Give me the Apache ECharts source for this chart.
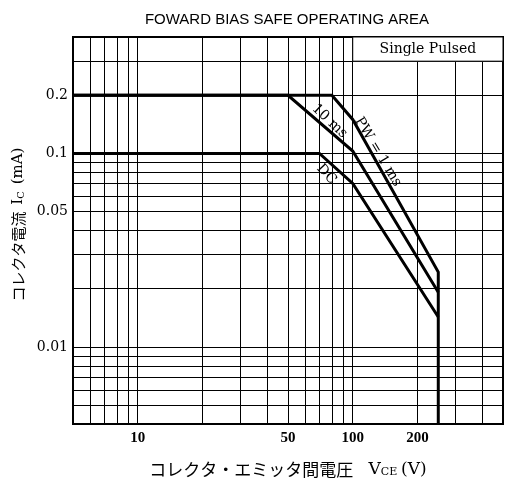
<!DOCTYPE html>
<html>
<head>
<meta charset="utf-8">
<script src="https://cdn.jsdelivr.net/npm/echarts@6/dist/echarts.min.js"></script>
<style>html,body{margin:0;padding:0;background:#fff}#chart{width:505px;height:490px}</style>
</head>
<body>
<div id="chart"></div>
<script>
// grid lines and labels (real units)
const vGrid = [5, 6, 7, 8, 9, 10, 20, 30, 40, 50, 60, 70, 80, 90, 100, 200, 300, 400, 500]
const iGrid = [0.004, 0.005, 0.006, 0.007, 0.008, 0.009, 0.01, 0.02, 0.03, 0.04, 0.05, 0.06, 0.07, 0.08, 0.09, 0.1, 0.2, 0.3, 0.4]
const vLabels = [10, 50, 100, 200]
const iLabels = [0.01, 0.05, 0.1, 0.2]

// SOA curves: VCE (V) / IC (mA)
const pw1msV = [5, 80, 100, 250, 250]
const pw1msI = [0.2, 0.2, 0.15, 0.0244, 0.004]
const pw10msV = [5, 50, 100, 250]
const pw10msI = [0.2, 0.2, 0.103, 0.0192]
const dcV = [5, 70, 100, 250]
const dcI = [0.1, 0.1, 0.07, 0.0143]

const lg = Math.log10
const pts = (vs, is) => vs.map((v, k) => [lg(v), lg(is[k])])
const SERIF = "'DejaVu Serif', serif"
const CJK = "'Noto Sans CJK JP', sans-serif"

function tag(text, v, i, rotate) {
  return {
    coord: [lg(v), lg(i)], symbol: 'circle', symbolSize: 1,
    itemStyle: { color: 'transparent' },
    label: { show: true, position: 'inside', rotate, formatter: text,
      color: '#000', fontFamily: SERIF, fontSize: 14 },
  }
}

function curve(name, data, marks, extra) {
  return Object.assign({
    name, type: 'line', data, symbol: 'none', silent: true,
    lineStyle: { color: '#000', width: 3, join: 'miter' },
    markPoint: { silent: true, data: marks },
  }, extra || {})
}

const chart = echarts.init(document.getElementById('chart'), null, { renderer: 'canvas' })
chart.setOption({
  animation: false,
  title: {
    text: 'FOWARD BIAS SAFE OPERATING AREA', left: 282, top: 7, textAlign: 'center',
    textStyle: { fontFamily: "'Liberation Sans', sans-serif", fontSize: 15, fontWeight: 'normal', color: '#000' },
  },
  grid: { left: 73, right: 2, top: 37, bottom: 66, show: true, borderColor: '#000', borderWidth: 2 },
  xAxis: {
    type: 'value', min: lg(5), max: lg(500),
    axisLine: { show: true, lineStyle: { color: '#000', width: 2 } },
    axisTick: { show: false, customValues: vGrid.map(lg) },
    splitLine: { show: true, lineStyle: { color: '#000', width: 1 } },
    axisLabel: {
      customValues: vLabels.map(lg), margin: 7,
      formatter: (v) => String(Math.round(Math.pow(10, v))),
      fontFamily: "'Liberation Serif', serif", fontWeight: 'bold', fontSize: 15, color: '#000',
    },
    name: 'コレクタ・エミッタ間電圧    {l|V}{s|CE} {l|(V)}',
    nameLocation: 'middle', nameGap: 37,
    nameTextStyle: {
      fontFamily: CJK, fontSize: 17, color: '#000',
      rich: {
        l: { fontFamily: SERIF, fontSize: 17, color: '#000' },
        s: { fontFamily: SERIF, fontSize: 11, color: '#000', padding: [6, 0, 0, 0] },
      },
    },
  },
  yAxis: {
    type: 'value', min: lg(0.004), max: lg(0.4),
    axisLine: { show: true, lineStyle: { color: '#000', width: 2 } },
    axisTick: { show: false, customValues: iGrid.map(lg) },
    splitLine: { show: true, lineStyle: { color: '#000', width: 1 } },
    axisLabel: {
      customValues: iLabels.map(lg), margin: 5,
      formatter: (v) => String(+Math.pow(10, v).toPrecision(2)),
      fontFamily: SERIF, fontSize: 14, color: '#000',
    },
    name: 'コレクタ電流  {l|I}{s|C}  {l|(mA)}',
    nameLocation: 'middle', nameRotate: 90, nameGap: 43,
    nameTextStyle: {
      fontFamily: CJK, fontSize: 15, color: '#000', padding: [0, 0, 0, 12],
      rich: {
        l: { fontFamily: SERIF, fontSize: 15, color: '#000' },
        s: { fontFamily: SERIF, fontSize: 10, color: '#000', padding: [6, 0, 0, 0] },
      },
    },
  },
  series: [
    curve('PW=1 ms', pts(pw1msV, pw1msI), [tag('PW = 1 ms', 131, 0.102, -59)]),
    curve('10 ms', pts(pw10msV, pw10msI), [tag('10 ms', 78, 0.147, -43)]),
    curve('DC', pts(dcV, dcI), [tag('DC', 75.5, 0.078, -47)], {
      markArea: {
        silent: true,
        itemStyle: { color: '#fff', borderColor: '#000', borderWidth: 1 },
        label: { show: true, position: 'inside', color: '#000', fontFamily: SERIF, fontSize: 14 },
        data: [[{ name: 'Single Pulsed', coord: [lg(100), lg(0.3)] }, { coord: [lg(500), lg(0.4)] }]],
      },
    }),
  ],
})
window.addEventListener('resize', () => chart.resize())
</script>
</body>
</html>
